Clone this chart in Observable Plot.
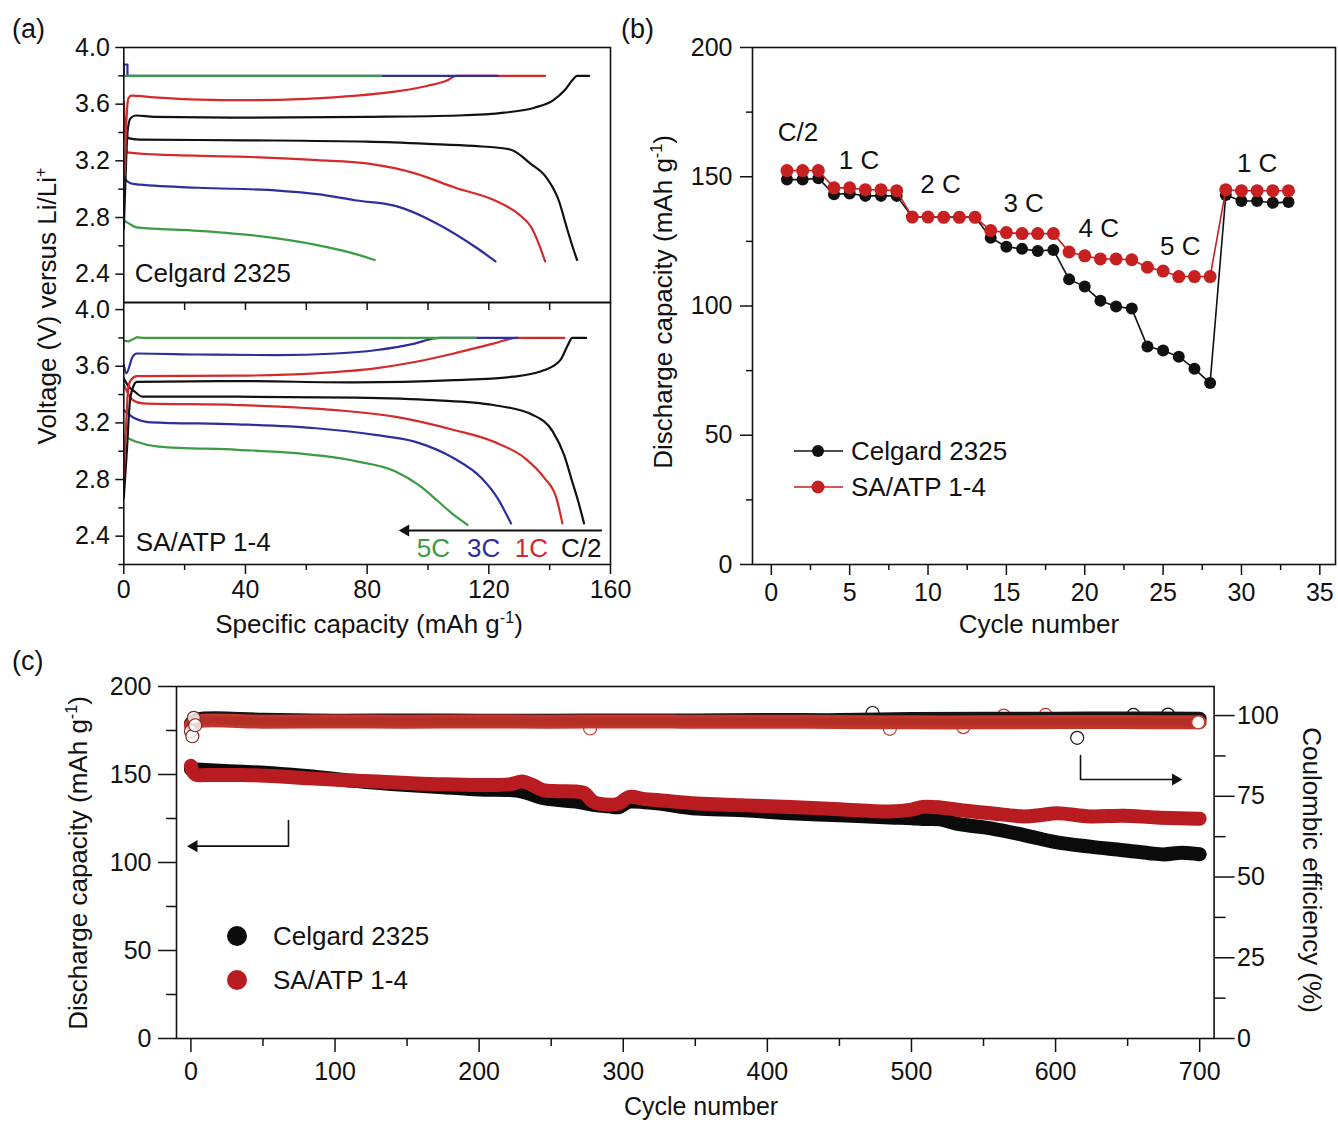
<!DOCTYPE html>
<html><head><meta charset="utf-8">
<script src="https://cdn.jsdelivr.net/npm/d3@7"></script>
<script src="https://cdn.jsdelivr.net/npm/@observablehq/plot@0.6"></script>
<style>
html,body{margin:0;padding:0;background:#fff;}
#fig{position:relative;width:1338px;height:1123px;overflow:hidden;font-family:"Liberation Sans",Arial,Helvetica,sans-serif;color:#111;background:#fff;}
</style></head>
<body><div id="fig"></div>
<script>
// ---------------- DATA ----------------
// (a) voltage profiles: [specific capacity (mAh/g), voltage (V)]
// Celgard 2325
const celC2Charge = [[0,2.72],[0.6,3.1],[1.2,3.4],[2.2,3.5],[4,3.52],[10,3.51],[40,3.505],[80,3.51],[110,3.52],[125,3.54],[135,3.575],[141,3.625],[145,3.7],[147.5,3.77],[149,3.8],[153,3.8]];
const celC2Discharge = [[0.5,3.5],[1.5,3.36],[5,3.35],[40,3.345],[80,3.335],[100,3.32],[115,3.305],[127,3.28],[133.7,3.18],[139,3.08],[143,2.92],[145.6,2.73],[147.6,2.59],[149,2.5]];
const cel1CCharge = [[0.3,3.1],[0.8,3.45],[1.5,3.64],[2.5,3.66],[10,3.648],[25,3.632],[40,3.628],[60,3.638],[76.6,3.66],[89.6,3.69],[100,3.73],[106.6,3.77],[109.2,3.8],[138.5,3.8]];
const cel1CDischarge = [[0,3.62],[0.6,3.35],[1.2,3.26],[10,3.245],[37.5,3.23],[63.6,3.205],[80.5,3.18],[96,3.11],[109,3.01],[122,2.92],[130,2.82],[134,2.73],[136.5,2.61],[138.5,2.49]];
const cel3CCharge = [[0,3.8],[0,3.88],[1.2,3.88],[1.2,3.8],[122.9,3.8]];
const cel3CDischarge = [[0,3.08],[1.5,3.05],[3.6,3.035],[24.5,3.01],[50.5,2.99],[63.6,2.965],[76.6,2.92],[89.6,2.88],[102.7,2.76],[115.7,2.59],[122.2,2.49]];
const cel5CCharge = [[0,3.8],[84.7,3.8]];
const cel5CDischarge = [[0,2.78],[1.5,2.76],[4.3,2.73],[24.5,2.706],[44,2.67],[63.6,2.605],[76.6,2.54],[82.5,2.5]];
// SA/ATP 1-4
const saC2Charge = [[0,2.67],[1,3.0],[2,3.35],[3,3.45],[4.3,3.49],[37.3,3.495],[76,3.486],[108.5,3.502],[128,3.526],[138.3,3.573],[143.5,3.643],[146,3.75],[147.4,3.8],[152,3.8]];
const saC2Discharge = [[0,3.514],[1.5,3.46],[3.6,3.42],[6.2,3.385],[37.3,3.385],[76,3.378],[102,3.36],[121.5,3.326],[134.5,3.256],[141,3.14],[144.8,2.97],[147.4,2.786],[149.4,2.645],[151.3,2.49]];
const sa1CCharge = [[0,2.83],[0.8,3.2],[1.5,3.45],[2.3,3.502],[4.3,3.53],[37.3,3.533],[63,3.55],[82.6,3.585],[95.6,3.63],[108.5,3.69],[121.5,3.76],[129.3,3.8],[144.8,3.8]];
const sa1CDischarge = [[0,3.47],[3,3.36],[6.2,3.338],[37.3,3.326],[69.7,3.29],[89,3.244],[108.5,3.15],[121.5,3.068],[131.9,2.95],[138.3,2.81],[142.2,2.67],[144.2,2.49]];
const sa3CCharge = [[0,3.61],[0.8,3.55],[2.9,3.667],[4.3,3.69],[24.4,3.683],[50.3,3.678],[69.7,3.69],[82.6,3.713],[95.6,3.76],[102,3.796],[104,3.8],[129.3,3.8]];
const sa3CDischarge = [[0,3.29],[3.6,3.232],[8.8,3.204],[37.3,3.19],[63.2,3.162],[82.6,3.115],[95.6,3.068],[108.5,2.95],[117.6,2.81],[122.8,2.67],[127.3,2.49]];
const sa5CCharge = [[0,3.78],[1.5,3.775],[3,3.79],[4.3,3.805],[6,3.8],[115.7,3.8]];
const sa5CDischarge = [[0,3.103],[3.6,3.07],[11.4,3.033],[37.3,3.01],[56.7,2.986],[76.2,2.93],[89,2.86],[97,2.76],[103.4,2.645],[108.5,2.55],[113,2.48]];
const rateNamesA = ["5C","3C","1C","C/2"];
const rateLabelCapA = [101.8,118.3,134,150.4];
const rateLabelVoltA = 2.31;
const arrowA = [[156.9,2.44],[93,2.44]];
const arrowHeadA = [[90.7,2.44]];

// (b) rate capability
const cyclesB = [1,2,3,4,5,6,7,8,9,10,11,12,13,14,15,16,17,18,19,20,21,22,23,24,25,26,27,28,29,30,31,32,33];
const celgardRate = [148.9,148.9,149.4,143.2,143.5,142.6,142.6,142.6,134.4,134.4,134.4,134.4,134.4,126.4,122.9,122.1,121.3,121.7,110.3,107.5,102,99.8,99,84.3,82.8,80.4,75.7,70.2,142.9,140.6,140.6,139.9,140.2];
const saatpRate = [152.4,152.4,152.4,145.7,145.7,145,145,144.6,134.4,134.4,134.3,134.3,134.3,129.2,128.4,128,128,128,120.9,119.4,118.2,118.2,117.9,115,113.5,111.4,111.4,111.4,145,144.6,144.6,144.6,144.6];
const rateLabelsB = ["C/2","1 C","2 C","3 C","4 C","5 C","1 C"];
const rateLabelCycleB = [1.7,5.6,10.8,16.1,20.9,26.1,31];
const rateLabelCapB = [167,156.3,147,139.5,130,122.9,155.2];

// (c) long cycling: [cycle, discharge capacity]
const capCelgard = [[0,153],[10,152.5],[36,151.5],[60,150.5],[82,149],[105,147],[129,145.3],[150,144],[175,142.8],[200,141.5],[221,141.2],[230,140.3],[244,136.7],[255,135.5],[267,134.6],[279,132.8],[290,131.9],[297,131.5],[304,134.5],[315,134.2],[325,133.5],[351,130.6],[380,129.8],[416,128],[450,126.8],[485,125.6],[500,125.2],[508,124.7],[520,124.5],[532,121.9],[555,119.4],[578,115.6],[601,111.4],[624,109],[647,107],[665,105.3],[675,104.6],[688,105.6],[700,104.7]];
const capSaatp = [[0,155],[3,150],[10,149.7],[36,149.7],[60,149],[82,147.8],[105,146.8],[129,146],[150,145.2],[175,144.4],[200,144],[221,144.4],[230,146],[237,144],[244,141.2],[255,140.5],[267,140.3],[273,139.5],[279,134.6],[290,132.8],[297,133.5],[304,137.2],[315,136],[325,135.4],[351,133.5],[380,132.6],[416,131.6],[450,130.3],[485,129],[500,130],[508,131.6],[520,131.3],[532,130],[555,128],[578,126.2],[590,127],[601,128],[624,126.2],[647,126.6],[670,125.6],[700,124.9]];
// (c) coulombic efficiency: [cycle, CE %]
const ceCelgard = [[0,97.5],[5,98.8],[50,98.7],[100,98.4],[150,98.5],[200,98.4],[250,98.4],[300,98.5],[350,98.5],[400,98.6],[450,98.6],[500,98.9],[550,99],[600,99],[650,99.1],[700,99]];
const ceSaatp = [[0,97],[5,98.2],[50,98.1],[100,98.2],[150,98.1],[200,98.2],[250,98.1],[300,98.2],[350,98.1],[400,98.1],[450,98],[500,97.9],[550,97.9],[600,98],[650,98],[700,97.9]];
const ceCelgardOutliers = [[473,100.8],[615,93.1],[654,100.2],[678,100.3]];
const ceSaatpOutliers = [[277,96],[485,95.9],[536,96.4],[564,100],[593,100.2]];
const ceStartPoints = [[0,95.2],[1,93.6],[2,99.3],[3,97]];
const ceEndPoint = [[699,97.9]];
const arrowCapLeft = [[67.7,123.9],[67.7,109.3],[3,109.3]];
const arrowCapLeftHead = [[-2,109.3]];
const arrowCeRight = [[617.3,87.6],[617.3,80.2],[682,80.2]];
const arrowCeRightHead = [[687.4,80.2]];

// ---------------- RENDER ----------------
const fig = document.getElementById("fig");
const W = 1338, H = 1123;
const FONT = '"Liberation Sans", Arial, Helvetica, sans-serif';
const INK = "#111111";
const GREEN = "#3c9b43", BLUE = "#2e2e9e", RED_A = "#d42a2a", RED_B = "#c62020", RED_C = "#b81c21", RED_CE = "#c4352b";

function addLayer(frame, options) {
  const svg = Plot.plot({
    width: W, height: H,
    marginLeft: frame.l, marginRight: W - frame.r, marginTop: frame.t, marginBottom: H - frame.b,
    style: {background: "transparent", fontFamily: FONT, fontSize: "25px", color: INK, overflow: "visible"},
    ...options
  });
  svg.style.position = "absolute"; svg.style.left = "0px"; svg.style.top = "0px"; svg.style.maxWidth = "none";
  fig.appendChild(svg);
}
const blank = () => "";
function axX(ticks, size, pad, fmt, anchor = "bottom") {
  return Plot.axisX({ticks, anchor, tickSize: size, tickPadding: pad, tickFormat: fmt || blank, label: null, fontSize: 25, strokeWidth: 1.5});
}
function axY(ticks, size, pad, fmt, anchor = "left") {
  return Plot.axisY({ticks, anchor, tickSize: size, tickPadding: pad, tickFormat: fmt || blank, label: null, fontSize: 25, strokeWidth: 1.5});
}
const px = d => d[0], py = d => d[1];
const f1 = d3.format(".1f"), fi = d => String(d);
const curve = (data, stroke, c = "monotone-x") => Plot.line(data, {x: px, y: py, stroke, strokeWidth: 2.2, curve: c, clip: true});

// (a) upper
const A1 = {l: 123.3, r: 610, t: 47, b: 302};
addLayer(A1, {
  x: {domain: [0, 160]}, y: {domain: [2.2, 4.0]},
  marks: [
    curve(celC2Discharge, INK), curve(cel1CDischarge, RED_A), curve(cel3CDischarge, BLUE), curve(cel5CDischarge, GREEN),
    curve(celC2Charge, INK), curve(cel1CCharge, RED_A), curve(cel3CCharge, BLUE, "linear"), curve(cel5CCharge, GREEN, "linear"),
    Plot.frame({stroke: INK, strokeWidth: 1.6}),
    axY([2.4, 2.8, 3.2, 3.6, 4.0], 8, 6, f1), axY([2.6, 3.0, 3.4, 3.8], 5, 0, null),
    axX([20, 40, 60, 80, 100, 120, 140], 8, 0, null),
    Plot.text(["Celgard 2325"], {text: d => d, frameAnchor: "bottom-left", dx: 11, dy: -29, textAnchor: "start", lineAnchor: "middle", fontSize: 26, fill: INK})
  ]
});
// (a) lower
const A2 = {l: 123.3, r: 610, t: 302, b: 564};
addLayer(A2, {
  x: {domain: [0, 160]}, y: {domain: [2.2, 4.05]},
  marks: [
    curve(saC2Discharge, INK), curve(sa1CDischarge, RED_A), curve(sa3CDischarge, BLUE), curve(sa5CDischarge, GREEN),
    curve(saC2Charge, INK), curve(sa1CCharge, RED_A), curve(sa3CCharge, BLUE), curve(sa5CCharge, GREEN, "linear"),
    Plot.frame({stroke: INK, strokeWidth: 1.6}),
    axY([2.4, 2.8, 3.2, 3.6, 4.0], 8, 6, f1), axY([2.2, 2.6, 3.0, 3.4, 3.8], 5, 0, null),
    axX([0, 40, 80, 120, 160], 10, 6, fi), axX([20, 60, 100, 140], 6, 0, null),
    Plot.text(["SA/ATP 1-4"], {text: d => d, frameAnchor: "bottom-left", dx: 12, dy: -22, textAnchor: "start", lineAnchor: "middle", fontSize: 26, fill: INK}),
    Plot.line(arrowA, {x: px, y: py, stroke: INK, strokeWidth: 2.2}),
    Plot.dot(arrowHeadA, {x: px, y: py, symbol: "triangle", rotate: -90, r: 4.5, fill: INK, stroke: "none", dx: 6}),
    ...rateNamesA.map((t, i) => Plot.text([t], {x: () => rateLabelCapA[i], y: () => rateLabelVoltA, text: d => d, fontSize: 26, fill: [GREEN, BLUE, RED_A, INK][i]}))
  ]
});

// (b)
const B = {l: 752, r: 1335, t: 47, b: 564};
const rateRows = cyclesB.map((c, i) => ({c, cel: celgardRate[i], sa: saatpRate[i]}));
addLayer(B, {
  x: {domain: [-1.2, 36]}, y: {domain: [0, 200]},
  marks: [
    Plot.line(rateRows, {x: "c", y: "cel", stroke: INK, strokeWidth: 1.6}),
    Plot.dot(rateRows, {x: "c", y: "cel", r: 6, fill: INK}),
    Plot.line(rateRows, {x: "c", y: "sa", stroke: RED_B, strokeWidth: 1.6}),
    Plot.dot(rateRows, {x: "c", y: "sa", r: 6.5, fill: RED_B}),
    Plot.text(rateLabelsB, {x: (d, i) => rateLabelCycleB[i], y: (d, i) => rateLabelCapB[i], text: d => d, fontSize: 26, fill: INK}),
    Plot.frame({stroke: INK, strokeWidth: 1.6}),
    axY([0, 50, 100, 150, 200], 12, 8, fi), axY([25, 75, 125, 175], 6, 0, null),
    axX([0, 5, 10, 15, 20, 25, 30, 35], 11, 8, fi), axX([2.5, 7.5, 12.5, 17.5, 22.5, 27.5, 32.5], 6, 0, null)
  ]
});

// (c) capacity layer
const C = {l: 176, r: 1213.6, t: 686, b: 1038};
addLayer(C, {
  x: {domain: [-10, 710]}, y: {domain: [0, 200]},
  marks: [
    Plot.line(capCelgard, {x: px, y: py, stroke: "#0b0b0b", strokeWidth: 14, strokeLinecap: "round", strokeLinejoin: "round", curve: "catmull-rom"}),
    Plot.line(capSaatp, {x: px, y: py, stroke: RED_C, strokeWidth: 14, strokeLinecap: "round", strokeLinejoin: "round", curve: "catmull-rom"}),
    Plot.line(arrowCapLeft, {x: px, y: py, stroke: INK, strokeWidth: 1.6}),
    Plot.dot(arrowCapLeftHead, {x: px, y: py, symbol: "triangle", rotate: -90, r: 4.5, fill: INK, stroke: "none", dx: 6}),
    Plot.frame({stroke: INK, strokeWidth: 1.6}),
    axY([0, 50, 100, 150, 200], 18, 7, fi), axY([25, 75, 125, 175], 10, 0, null),
    axX([0, 100, 200, 300, 400, 500, 600, 700], 14, 10, fi), axX([50, 150, 250, 350, 450, 550, 650], 8, 0, null)
  ]
});
// (c) coulombic efficiency layer
addLayer(C, {
  x: {domain: [-10, 710], axis: null}, y: {domain: [0, 109]},
  marks: [
    Plot.dot(ceCelgardOutliers, {x: px, y: py, r: 6.5, fill: "white", stroke: INK, strokeWidth: 1.2}),
    Plot.dot(ceSaatpOutliers, {x: px, y: py, r: 6.5, fill: "white", stroke: RED_CE, strokeWidth: 1.2}),
    Plot.line(ceCelgard, {x: px, y: py, stroke: "#141414", strokeWidth: 14, strokeLinecap: "round", curve: "catmull-rom"}),
    Plot.line(ceSaatp, {x: px, y: py, stroke: RED_CE, strokeWidth: 14, strokeLinecap: "round", curve: "catmull-rom"}),
    Plot.line(ceSaatp, {x: px, y: py, stroke: "#8f231c", strokeWidth: 8, strokeDasharray: "1 4", strokeOpacity: 0.3, curve: "catmull-rom"}),
    Plot.dot(ceStartPoints, {x: px, y: py, r: 6.5, fill: "white", fillOpacity: 0.8, stroke: "#7a2a24", strokeWidth: 1.2}),
    Plot.dot(ceEndPoint, {x: px, y: py, r: 6.5, fill: "white", stroke: RED_CE, strokeWidth: 1.2}),
    Plot.line(arrowCeRight, {x: px, y: py, stroke: INK, strokeWidth: 1.6}),
    Plot.dot(arrowCeRightHead, {x: px, y: py, symbol: "triangle", rotate: 90, r: 4.5, fill: INK, stroke: "none", dx: -6}),
    axY([0, 25, 50, 75, 100], 20, 3, fi, "right"), axY([12.5, 37.5, 62.5, 87.5], 11, 0, null, "right")
  ]
});

// ---------------- TEXT (titles, legends) ----------------
const SUP = s => `<span style="font-size:62%;position:relative;top:-0.6em">${s}</span>`;
function label(html, x, y, {rot = 0, size = 26, start = false, color = INK} = {}) {
  const d = document.createElement("div");
  d.innerHTML = html;
  d.style.cssText = `position:absolute;left:${x}px;top:${y}px;font-size:${size}px;line-height:1;white-space:nowrap;color:${color};transform:translate(${start ? "0" : "-50%"},-50%) rotate(${rot}deg);`;
  fig.appendChild(d);
}
label("(a)", 12, 29, {start: true, size: 27});
label("(b)", 621, 29, {start: true, size: 27});
label("(c)", 12, 661, {start: true, size: 27});
label(`Voltage (V) versus Li/Li${SUP("+")}`, 47, 306, {rot: -90});
label(`Specific capacity (mAh g${SUP("-1")})`, 369, 624);
label(`Discharge capacity (mAh g${SUP("-1")})`, 663, 302, {rot: -90});
label("Cycle number", 1039, 624);
label(`Discharge capacity (mAh g${SUP("-1")})`, 78, 863, {rot: -90});
label("Coulombic efficiency (%)", 1312, 870, {rot: 90});
label("Cycle number", 701, 1106, {size: 25});

function legendSymbol(x, y, color, withLine, r) {
  const ns = "http://www.w3.org/2000/svg";
  const s = document.createElementNS(ns, "svg");
  s.setAttribute("width", 60); s.setAttribute("height", 30);
  s.style.cssText = `position:absolute;left:${x - 30}px;top:${y - 15}px;overflow:visible`;
  if (withLine) {
    const l = document.createElementNS(ns, "line");
    l.setAttribute("x1", 6); l.setAttribute("x2", 55); l.setAttribute("y1", 15); l.setAttribute("y2", 15);
    l.setAttribute("stroke", color); l.setAttribute("stroke-width", 1.6);
    s.appendChild(l);
  }
  const c = document.createElementNS(ns, "circle");
  c.setAttribute("cx", 30); c.setAttribute("cy", 15); c.setAttribute("r", r); c.setAttribute("fill", color);
  s.appendChild(c);
  fig.appendChild(s);
}
legendSymbol(818, 451, INK, true, 6);
legendSymbol(818, 487, RED_B, true, 6.5);
label("Celgard 2325", 851, 451, {start: true});
label("SA/ATP 1-4", 851, 487, {start: true});
legendSymbol(237, 936, "#0b0b0b", false, 10);
legendSymbol(237, 980, RED_C, false, 10);
label("Celgard 2325", 273, 936, {start: true});
label("SA/ATP 1-4", 273, 980, {start: true});
</script>
</body></html>
